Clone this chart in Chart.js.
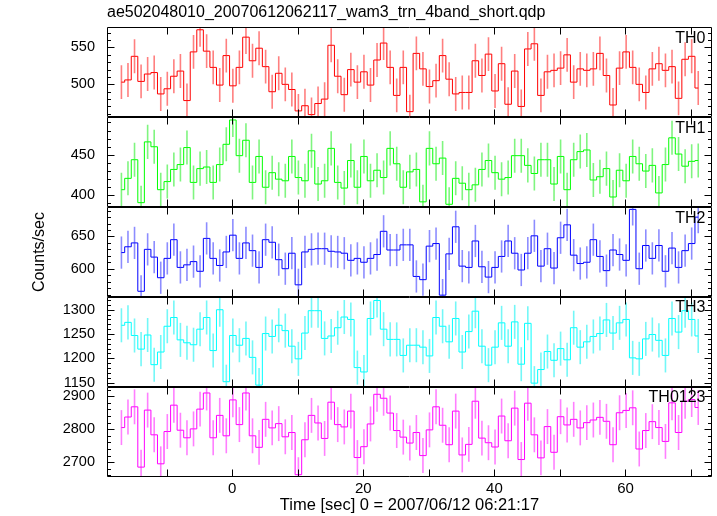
<!DOCTYPE html>
<html>
<head>
<meta charset="utf-8">
<script src="https://cdn.jsdelivr.net/npm/chart.js@4"></script>
<style>
html, body { margin: 0; padding: 0; background: #fff; }
</style>
</head>
<body>
<canvas id="lc" width="717" height="516"></canvas>
<script>
// bin centres (sec), 1 s bins
const timeSec = [
  -16.9,-15.9,-14.9,-13.9,-12.9,-11.9,-10.9,-9.9,-8.9,-7.9,
  -6.9,-5.9,-4.9,-3.9,-2.9,-1.9,-0.9,0.1,1.1,2.1,
  3.1,4.1,5.1,6.1,7.1,8.1,9.1,10.1,11.1,12.1,
  13.1,14.1,15.1,16.1,17.1,18.1,19.1,20.1,21.1,22.1,
  23.1,24.1,25.1,26.1,27.1,28.1,29.1,30.1,31.1,32.1,
  33.1,34.1,35.1,36.1,37.1,38.1,39.1,40.1,41.1,42.1,
  43.1,44.1,45.1,46.1,47.1,48.1,49.1,50.1,51.1,52.1,
  53.1,54.1,55.1,56.1,57.1,58.1,59.1,60.1,61.1,62.1,
  63.1,64.1,65.1,66.1,67.1,68.1,69.1,70.1,71.1
];

const bandNames = ['TH0', 'TH1', 'TH2', 'TH3', 'TH0123'];

const th0 = [
  503,506,538,504,514,516,487,494,511,518,
  478,544,574,545,523,499,539,498,523,564,
  532,549,524,490,515,500,493,464,471,459,
  474,480,553,511,486,520,503,517,499,533,
  556,523,485,523,463,542,521,497,505,539,
  507,487,489,489,532,512,541,491,528,473,
  518,470,548,555,485,517,519,522,540,503,
  521,519,521,542,512,472,522,544,523,500,
  489,521,528,519,524,481,534,538,495
];
const th1 = [
  407,421,444,391,466,460,407,417,432,438,
  459,416,433,435,416,438,463,493,449,468,
  416,448,410,428,420,418,448,422,418,455,
  414,418,458,416,409,443,410,448,418,431,
  422,458,439,410,429,432,392,458,439,446,
  389,421,415,407,413,432,443,428,420,422,
  449,449,437,427,444,444,414,448,407,444,
  454,456,419,423,433,398,431,418,448,439,
  430,437,403,438,471,451,436,442,443
];
const th2 = [
  625,634,640,565,630,618,586,616,645,602,
  606,611,596,647,616,605,626,652,616,640,
  628,602,645,641,614,600,624,575,626,630,
  631,631,627,626,624,613,616,610,616,622,
  658,629,629,637,637,588,583,635,639,559,
  623,665,604,602,643,603,587,602,619,643,
  624,598,624,651,604,631,601,648,668,621,
  608,610,645,619,597,629,622,613,692,600,
  636,616,636,596,632,602,628,639,680
];
const th3 = [
  1268,1274,1247,1219,1248,1187,1213,1266,1284,1238,
  1232,1228,1260,1284,1216,1300,1152,1247,1227,1241,
  1202,1145,1251,1245,1268,1257,1225,1199,1252,1298,
  1298,1241,1246,1263,1285,1280,1181,1172,1282,1319,
  1260,1239,1239,1206,1227,1227,1223,1205,1284,1266,
  1234,1282,1213,1255,1297,1225,1186,1223,1273,1225,
  1275,1188,1272,1149,1177,1214,1196,1220,1197,1263,
  1223,1234,1245,1251,1279,1252,1273,1280,1201,1199,
  1240,1249,1237,1206,1282,1254,1298,1280,1246
];
const th0123 = [
  2805,2837,2868,2685,2858,2783,2695,2793,2873,2797,
  2774,2801,2861,2910,2774,2842,2780,2889,2814,2910,
  2780,2745,2830,2804,2817,2777,2790,2662,2768,2842,
  2819,2772,2882,2814,2807,2855,2714,2747,2816,2906,
  2894,2849,2796,2776,2758,2790,2720,2798,2868,2812,
  2753,2855,2722,2754,2885,2773,2759,2746,2840,2765,
  2864,2708,2879,2783,2713,2808,2730,2838,2813,2830,
  2804,2820,2828,2836,2824,2753,2850,2857,2865,2740,
  2796,2823,2805,2763,2880,2790,2885,2890,2866
];
const series = [th0, th1, th2, th3, th0123];

// 1-sigma error half-widths per band (counts/sec)
const errHalf = [23, 21, 25, 35, 53];

// axis ranges and tick spacing
const xMin = -19.1, xMax = 73.2;
const yMin = [455.5, 385.5, 556, 1141, 2655];
const yMax = [577.5, 496.5, 695.5, 1326, 2928];
const yStep = [50, 50, 50, 50, 100];
const yMinor = [10, 10, 10, 10, 20];

const lineColors = ['#ff0000', '#00ff00', '#0000ff', '#00ffff', '#ff00ff'];
const errColors = ['rgba(255,0,0,0.5)', 'rgba(0,235,0,0.5)', 'rgba(0,0,255,0.45)',
                   'rgba(0,240,240,0.55)', 'rgba(255,0,255,0.5)'];

Chart.defaults.font.family = '"Liberation Sans", Arial, sans-serif';
Chart.defaults.color = '#000';

const datasets = [];
series.forEach((vals, k) => {
  datasets.push({
    type: 'line',
    label: bandNames[k],
    data: timeSec.map((t, i) => ({ x: t, y: vals[i] })),
    yAxisID: 'y' + k,
    borderColor: lineColors[k],
    borderWidth: 1,
    pointRadius: 0,
    stepped: 'middle',
    fill: false
  });
  datasets.push({
    type: 'bar',
    label: bandNames[k] + ' err',
    data: timeSec.map((t, i) => ({ x: t, y: [vals[i] - errHalf[k], vals[i] + errHalf[k]] })),
    yAxisID: 'y' + k,
    backgroundColor: errColors[k],
    borderWidth: 0,
    barThickness: 1.6,
    inflateAmount: 0,
    grouped: false
  });
});

const scales = {
  x: {
    type: 'linear', position: 'bottom', min: xMin, max: xMax, offset: false,
    grid: { display: false, drawTicks: false }, border: { display: false },
    ticks: {
      stepSize: 10, includeBounds: false, autoSkip: false, maxRotation: 0, padding: 3,
      font: { size: 15 },
      callback: v => (v % 20 === 0 ? String(v) : '')
    },
    title: { display: true, text: 'Time [sec] 0 = 2007/06/12 06:21:17',
             font: { size: 16.5 }, padding: { top: 0, bottom: 1 } },
    afterFit: s => { s.height = 39; }
  }
};
// defined bottom-up so that TH0 lands at the top of the stack
for (let k = bandNames.length - 1; k >= 0; k--) {
  scales['y' + k] = {
    type: 'linear', position: 'left', stack: 'bands', stackWeight: 1,
    min: yMin[k], max: yMax[k],
    grid: { display: false, drawTicks: false }, border: { display: false },
    ticks: { stepSize: yStep[k], includeBounds: false, autoSkip: false, padding: 12,
             font: { size: 14.5 }, callback: v => String(v) },
    title: { display: k === 2, text: 'Counts/sec', font: { size: 16 }, padding: { top: 30, bottom: 0 } },
    afterFit: s => { s.width = 107; }
  };
}

// frames, inward tick marks and band names for every panel
const panelFrame = {
  id: 'panelFrame',
  afterDatasetsDraw(chart) {
    const { ctx, chartArea, scales } = chart;
    const xs = scales.x;
    const l = Math.round(chartArea.left) + 0.5;
    const r = Math.round(chartArea.right) - 0.5;
    ctx.save();
    ctx.strokeStyle = '#000';
    ctx.lineWidth = 1;
    bandNames.forEach((name, k) => {
      const ys = scales['y' + k];
      const top = Math.round(ys.top) + 0.5;
      const bot = Math.round(ys.bottom) - 0.5;
      ctx.beginPath();
      ctx.rect(l, top, r - l, bot - top);
      xs.ticks.forEach(t => {
        const px = Math.round(xs.getPixelForValue(t.value)) + 0.5;
        ctx.moveTo(px, top); ctx.lineTo(px, top + 7);
        ctx.moveTo(px, bot); ctx.lineTo(px, bot - 7);
      });
      const m = yMinor[k];
      for (let v = Math.ceil(ys.min / m) * m; v <= ys.max; v += m) {
        const py = Math.round(ys.getPixelForValue(v)) + 0.5;
        const len = (v % yStep[k] === 0) ? 7 : 3.5;
        ctx.moveTo(l, py); ctx.lineTo(l + len, py);
        ctx.moveTo(r, py); ctx.lineTo(r - len, py);
      }
      ctx.stroke();
      ctx.fillStyle = '#000';
      ctx.font = '16px "Liberation Sans", Arial, sans-serif';
      ctx.textAlign = 'right';
      ctx.textBaseline = 'top';
      ctx.fillText(name, r - 6, ys.top + 3);
    });
    ctx.restore();
  }
};

new Chart(document.getElementById('lc'), {
  type: 'line',
  data: { datasets },
  options: {
    responsive: false,
    animation: false,
    devicePixelRatio: 1,
    layout: { padding: { left: 0, right: 5, top: 0, bottom: 0 } },
    plugins: {
      legend: { display: false },
      tooltip: { enabled: false },
      title: {
        display: true, align: 'start', fullSize: false,
        text: 'ae502048010_20070612062117_wam3_trn_4band_short.qdp',
        font: { size: 16, weight: 'normal' }, color: '#000',
        padding: { top: 3, bottom: 5 }
      }
    },
    scales
  },
  plugins: [panelFrame]
});
</script>
</body>
</html>
